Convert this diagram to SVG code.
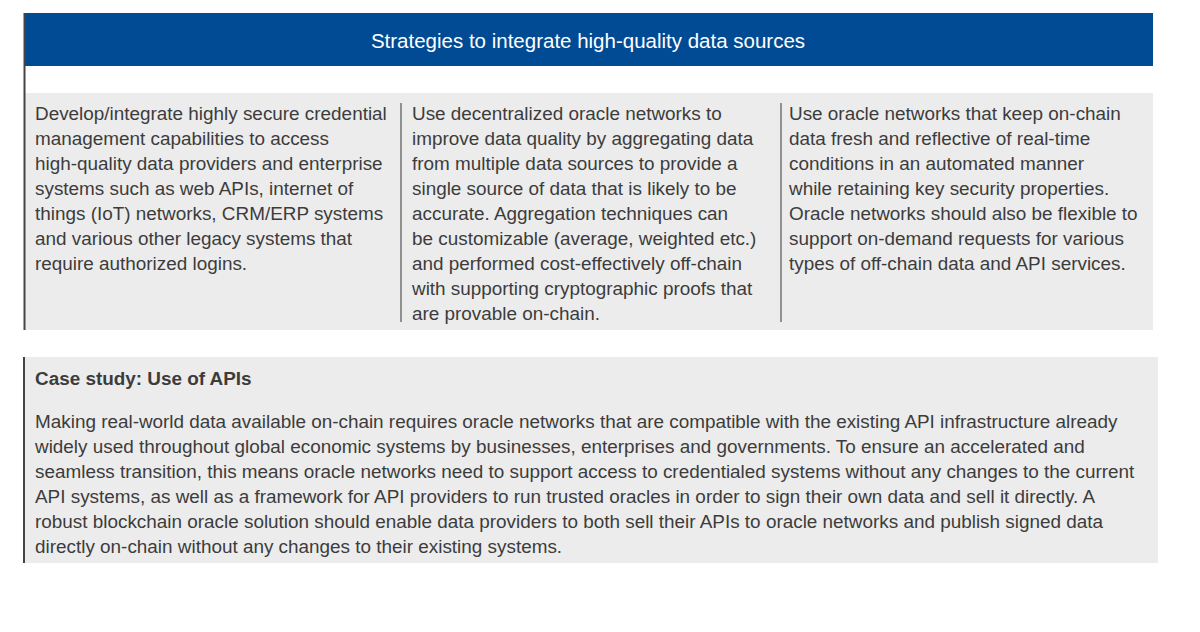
<svg xmlns="http://www.w3.org/2000/svg" width="1200" height="632" viewBox="0 0 1200 632">
<style>
.t{font-family:"Liberation Sans",Arial,sans-serif;font-size:18.9px;fill:#3c3c3c}
.b{font-weight:bold}
.div{stroke:#555;stroke-width:1.2}
</style>
<rect width="1200" height="632" fill="#fff"/>
<g id="header">
<rect x="24" y="13" width="1129" height="53" fill="#004b93"/>
<text x="588" y="48" text-anchor="middle" class="t" style="fill:#fff;font-size:20.5px">Strategies to integrate high-quality data sources</text>
</g>
<rect x="24" y="93" width="1129" height="237" fill="#ececec"/>
<line x1="24.5" y1="13" x2="24.5" y2="330" stroke="#444" stroke-width="2"/>
<g id="connectors">
<line class="div" x1="401" y1="103" x2="401" y2="322"/>
<line class="div" x1="781" y1="103" x2="781" y2="322"/>
</g>
<g id="col1"><text class="t" x="35" y="120">
<tspan x="35">Develop/integrate highly secure credential</tspan>
<tspan x="35" dy="25">management capabilities to access</tspan>
<tspan x="35" dy="25">high-quality data providers and enterprise</tspan>
<tspan x="35" dy="25">systems such as web APIs, internet of</tspan>
<tspan x="35" dy="25">things (IoT) networks, CRM/ERP systems</tspan>
<tspan x="35" dy="25">and various other legacy systems that</tspan>
<tspan x="35" dy="25">require authorized logins.</tspan></text></g>
<g id="col2"><text class="t" x="412" y="120">
<tspan x="412">Use decentralized oracle networks to</tspan>
<tspan x="412" dy="25">improve data quality by aggregating data</tspan>
<tspan x="412" dy="25">from multiple data sources to provide a</tspan>
<tspan x="412" dy="25">single source of data that is likely to be</tspan>
<tspan x="412" dy="25">accurate. Aggregation techniques can</tspan>
<tspan x="412" dy="25">be customizable (average, weighted etc.)</tspan>
<tspan x="412" dy="25">and performed cost-effectively off-chain</tspan>
<tspan x="412" dy="25">with supporting cryptographic proofs that</tspan>
<tspan x="412" dy="25">are provable on-chain.</tspan></text></g>
<g id="col3"><text class="t" x="789" y="120">
<tspan x="789">Use oracle networks that keep on-chain</tspan>
<tspan x="789" dy="25">data fresh and reflective of real-time</tspan>
<tspan x="789" dy="25">conditions in an automated manner</tspan>
<tspan x="789" dy="25">while retaining key security properties.</tspan>
<tspan x="789" dy="25">Oracle networks should also be flexible to</tspan>
<tspan x="789" dy="25">support on-demand requests for various</tspan>
<tspan x="789" dy="25">types of off-chain data and API services.</tspan></text></g>
<g id="case">
<rect x="23" y="357" width="1135" height="206" fill="#ececec"/>
<line x1="24" y1="357" x2="24" y2="563" stroke="#444" stroke-width="2"/>
<text class="t b" x="35" y="385">Case study: Use of APIs</text>
<text class="t" x="35" y="428">
<tspan x="35">Making real-world data available on-chain requires oracle networks that are compatible with the existing API infrastructure already</tspan>
<tspan x="35" dy="25">widely used throughout global economic systems by businesses, enterprises and governments. To ensure an accelerated and</tspan>
<tspan x="35" dy="25">seamless transition, this means oracle networks need to support access to credentialed systems without any changes to the current</tspan>
<tspan x="35" dy="25">API systems, as well as a framework for API providers to run trusted oracles in order to sign their own data and sell it directly. A</tspan>
<tspan x="35" dy="25">robust blockchain oracle solution should enable data providers to both sell their APIs to oracle networks and publish signed data</tspan>
<tspan x="35" dy="25">directly on-chain without any changes to their existing systems.</tspan></text>
</g>
</svg>
